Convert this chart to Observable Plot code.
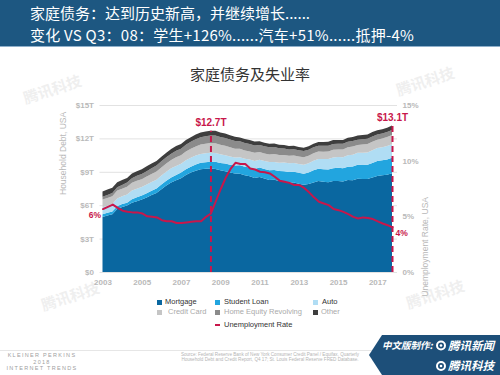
<!DOCTYPE html>
<html><head><meta charset="utf-8">
<script src="https://cdn.jsdelivr.net/npm/d3@7"></script>
<script src="https://cdn.jsdelivr.net/npm/@observablehq/plot@0.6"></script>
<style>
body{margin:0;background:#fff;}
#page{position:relative;width:500px;height:375px;overflow:hidden;font-family:"Liberation Sans",Arial,sans-serif;background:#fff;}
#hdr{position:absolute;left:0;top:0;width:500px;height:46px;background:#1d5781;border-bottom:1px solid #8fb0cb;z-index:3;}
.hl{position:absolute;left:30px;color:#fff;font-family:"Noto Sans CJK SC",sans-serif;font-size:15px;line-height:16px;white-space:nowrap;}
#title{position:absolute;left:0;width:500px;top:65px;text-align:center;font-family:"Noto Sans CJK SC",sans-serif;font-size:15px;line-height:18px;color:#333;z-index:2;}
#chart{position:absolute;left:0;top:0;z-index:1;}
.lg{position:absolute;font-size:7.5px;line-height:10px;white-space:nowrap;z-index:2;}
.sw{position:absolute;width:5px;height:5px;z-index:2;}
.wm{position:absolute;font-family:"Noto Sans CJK SC",sans-serif;font-weight:bold;font-size:15px;color:#efefef;transform:rotate(-18deg);white-space:nowrap;z-index:0;}
.kp{position:absolute;width:84px;left:0;text-align:center;font-size:5.5px;letter-spacing:1.3px;color:#a0a0a0;line-height:7px;}
.src{position:absolute;left:150px;width:240px;text-align:center;font-size:4.6px;line-height:5.5px;color:#b5b5b5;}
</style></head>
<body><div id="page">
<div class="wm" style="left:22px;top:78px;">腾讯科技</div>
<div class="wm" style="left:395px;top:70px;">腾讯科技</div>
<div class="wm" style="left:40px;top:285px;">腾讯科技</div>
<div class="wm" style="left:405px;top:283px;">腾讯科技</div>
<div id="chart"></div>
<div id="hdr">
  <div class="hl" style="top:5px;">家庭债务：达到历史新高，并继续增长......</div>
  <div class="hl" style="top:27px;letter-spacing:0.25px;">变化 VS Q3：08：学生+126%......汽车+51%......抵押-4%</div>
</div>
<div id="title">家庭债务及失业率</div>
<div id="footer"></div>
</div>
<script>
// ---------- data ----------
const years = [2003,2004,2005,2006,2007,2008,2009,2010,2011,2012,2013,2014,2015,2016,2017];
const quarterNames = ["Q1","Q2","Q3","Q4"];
const categories = ["Mortgage","Student Loan","Auto","Credit Card","Home Equity Revolving","Other"];
const colors = ["#0a67a0","#22a5df","#b0ddf4","#c5c5c5","#8b8b8b","#3e3e3e"];
const legendTextColors = ["#333","#333","#333","#aaa","#aaa","#aaa"];

// household debt, $T per quarter 2003Q1..2017Q4
const mortgage = [4.94,5.08,5.18,5.66, 5.84,5.97,6.21,6.36, 6.51,6.70,6.91,7.10, 7.44,7.76,8.04,8.23, 8.42,8.71,8.93,9.10, 9.23,9.27,9.29,9.26, 9.14,9.06,8.94,8.84, 8.83,8.70,8.61,8.45, 8.54,8.40,8.27,8.29, 8.17,8.15,8.03,8.03, 7.93,7.84,7.90,8.05, 8.17,8.10,8.07,8.17, 8.17,8.12,8.26,8.25, 8.37,8.36,8.35,8.48, 8.63,8.69,8.74,8.88];
const studentLoan = [0.24,0.24,0.25,0.25, 0.26,0.26,0.33,0.35, 0.36,0.37,0.38,0.39, 0.43,0.44,0.45,0.48, 0.51,0.52,0.53,0.55, 0.58,0.58,0.61,0.64, 0.66,0.68,0.69,0.72, 0.76,0.76,0.78,0.81, 0.84,0.85,0.87,0.87, 0.90,0.91,0.96,0.97, 0.99,0.99,1.03,1.08, 1.11,1.12,1.13,1.16, 1.19,1.19,1.20,1.23, 1.26,1.26,1.28,1.31, 1.34,1.34,1.36,1.38];
const auto = [0.64,0.64,0.68,0.70, 0.70,0.73,0.77,0.77, 0.76,0.78,0.79,0.80, 0.80,0.81,0.82,0.82, 0.79,0.81,0.81,0.81, 0.80,0.81,0.81,0.79, 0.78,0.75,0.74,0.72, 0.71,0.71,0.71,0.71, 0.71,0.71,0.73,0.73, 0.75,0.77,0.78,0.78, 0.79,0.81,0.84,0.86, 0.88,0.92,0.94,0.96, 0.96,1.00,1.03,1.06, 1.07,1.10,1.11,1.14, 1.16,1.17,1.21,1.22];
const creditCard = [0.69,0.69,0.69,0.70, 0.68,0.70,0.70,0.71, 0.71,0.72,0.73,0.74, 0.72,0.74,0.75,0.77, 0.76,0.79,0.80,0.82, 0.84,0.85,0.87,0.87, 0.84,0.84,0.83,0.80, 0.76,0.74,0.73,0.73, 0.69,0.69,0.69,0.70, 0.68,0.68,0.67,0.68, 0.66,0.67,0.67,0.68, 0.66,0.67,0.68,0.70, 0.69,0.70,0.71,0.73, 0.71,0.73,0.75,0.78, 0.76,0.78,0.81,0.83];
const heRevolving = [0.24,0.26,0.29,0.30, 0.33,0.37,0.42,0.45, 0.47,0.49,0.52,0.53, 0.55,0.56,0.57,0.59, 0.60,0.61,0.62,0.64, 0.66,0.68,0.69,0.71, 0.71,0.71,0.70,0.69, 0.68,0.68,0.67,0.67, 0.63,0.64,0.64,0.63, 0.61,0.59,0.57,0.56, 0.56,0.55,0.54,0.53, 0.53,0.52,0.52,0.51, 0.51,0.50,0.49,0.49, 0.48,0.48,0.47,0.47, 0.46,0.45,0.45,0.44];
const other = [0.48,0.49,0.48,0.45, 0.45,0.42,0.42,0.42, 0.42,0.43,0.42,0.42, 0.42,0.41,0.42,0.42, 0.42,0.42,0.42,0.43, 0.41,0.42,0.41,0.41, 0.40,0.40,0.39,0.38, 0.35,0.35,0.35,0.35, 0.33,0.33,0.33,0.33, 0.31,0.31,0.31,0.32, 0.30,0.31,0.31,0.32, 0.33,0.34,0.35,0.35, 0.34,0.35,0.36,0.37, 0.36,0.37,0.38,0.39, 0.39,0.39,0.39,0.40];
// unemployment rate, % per quarter
const unemployment = [5.7,5.9,6.1,5.8, 5.55,5.45,5.4,5.4, 5.3,5.05,5.0,4.95, 4.7,4.6,4.6,4.45, 4.45,4.5,4.55,4.6, 4.6,5.0,5.3,6.4, 7.5,8.5,9.3,9.85, 9.75,9.75,9.35,9.25, 9.05,9.0,8.9,8.6, 8.25,8.15,8.05,7.85, 7.85,7.6,7.2,6.75, 6.35,6.2,6.05,5.7, 5.6,5.45,5.25,5.0, 4.85,4.95,4.9,4.8, 4.6,4.4,4.25,4.05];

const xTicks = [2003,2005,2007,2009,2011,2013,2015,2017];
const yTicks = [0,3,6,9,12,15];
const yTickLabels = ["$0","$3T","$6T","$9T","$12T","$15T"];
const pctTicks = [0,5,10,15];
const pctTickLabels = ["0%","5%","10%","15%"];
const peakQuarters = ["2008Q3","2017Q4"];
const peakLabels = ["$12.7T","$13.1T"];
const endLabels = ["6%","4%"];
const red = "#c8174b";

// ---------- tables ----------
const quarters = years.flatMap(y => quarterNames.map((q, i) => ({key: y + q, t: y + i / 4})));
const series = [mortgage, studentLoan, auto, creditCard, heRevolving, other];
const debtLong = categories.flatMap((c, ci) => quarters.map((q, i) => ({t: q.t, cat: c, value: series[ci][i]})));
const totals = quarters.map((q, i) => ({t: q.t, key: q.key, total: series.reduce((s, arr) => s + arr[i], 0)}));
const peaks = peakQuarters.map((k, i) => ({...totals.find(d => d.key === k), label: peakLabels[i]}));
const unemp = quarters.map((q, i) => ({t: q.t, u: unemployment[i]}));
const ends = [{...unemp[0], label: endLabels[0]}, {...unemp[unemp.length - 1], label: endLabels[1]}];

const axisStyle = {fontSize: 8, fontWeight: "bold", color: "#b9b9b9"};

const chart = Plot.plot({
  width: 500, height: 300,
  marginLeft: 102.5, marginRight: 108, marginTop: 105, marginBottom: 28,
  x: {domain: [2003, 2017.75]},
  y: {domain: [0, 15]},
  color: {domain: categories, range: colors},
  style: {fontFamily: "Liberation Sans, Arial, sans-serif", background: "transparent", color: "#b9b9b9", overflow: "visible"},
  marks: [
    Plot.gridY(yTicks, {stroke: "#e2e2e2", strokeOpacity: 1, insetLeft: -3, insetRight: -5}),
    Plot.areaY(debtLong, {x: "t", y: "value", fill: "cat", order: categories}),
    Plot.ruleX(peaks, {x: "t", y1: 0, y2: "total", stroke: red, strokeWidth: 2, strokeDasharray: "6,4"}),
    Plot.line(unemp, {x: "t", y: "u", stroke: red, strokeWidth: 2}),
    Plot.text(peaks, {x: "t", y: "total", text: "label", dy: -5, lineAnchor: "bottom", fill: red, fontWeight: "bold", fontSize: 10}),
    Plot.text(ends.slice(0, 1), {x: "t", y: "u", text: "label", textAnchor: "end", dx: -2, dy: 6, fill: red, fontWeight: "bold", fontSize: 8.5}),
    Plot.text(ends.slice(1), {x: "t", y: "u", text: "label", textAnchor: "start", dx: 3, dy: 6, fill: red, fontWeight: "bold", fontSize: 8.5}),
    Plot.axisX({ticks: xTicks, tickSize: 0, tickPadding: 7, tickFormat: d => String(d), label: null, ...axisStyle}),
    Plot.axisY({anchor: "left", ticks: yTicks, tickSize: 0, tickPadding: 9, tickFormat: d => yTickLabels[yTicks.indexOf(d)], label: null, ...axisStyle}),
    Plot.axisY({anchor: "right", ticks: pctTicks, tickSize: 0, tickPadding: 10, tickFormat: d => pctTickLabels[pctTicks.indexOf(d)], label: null, ...axisStyle}),
    Plot.text(["Household Debt, USA"], {frameAnchor: "left", rotate: -90, dx: -39.5, dy: 6, fontSize: 8.5, fill: "#b9b9b9"}),
    Plot.text(["Unemployment Rate, USA"], {frameAnchor: "right", rotate: -90, dx: 33, dy: 8, fontSize: 8.5, fill: "#b9b9b9"})
  ]
});
document.getElementById("chart").appendChild(chart);

// ---------- legend ----------
const page = document.getElementById("page");
const legendPos = [
  {sx: 157, tx: 165, cy: 302}, {sx: 215, tx: 224, cy: 302}, {sx: 313, tx: 322, cy: 302},
  {sx: 157, tx: 168, cy: 312}, {sx: 215, tx: 224, cy: 312}, {sx: 313, tx: 321, cy: 312}
];
categories.forEach((c, i) => {
  const p = legendPos[i];
  const sw = document.createElement("div");
  sw.className = "sw";
  sw.style.left = p.sx + "px"; sw.style.top = (p.cy - 2.5) + "px"; sw.style.background = colors[i];
  page.appendChild(sw);
  const t = document.createElement("div");
  t.className = "lg"; t.textContent = c;
  t.style.left = p.tx + "px"; t.style.top = (p.cy - 5) + "px"; t.style.color = legendTextColors[i];
  page.appendChild(t);
});
{
  const sw = document.createElement("div");
  sw.className = "sw";
  sw.style.left = "215px"; sw.style.top = "323.5px"; sw.style.height = "2px"; sw.style.background = red;
  page.appendChild(sw);
  const t = document.createElement("div");
  t.className = "lg"; t.textContent = "Unemployment Rate";
  t.style.left = "224px"; t.style.top = "319.5px"; t.style.color = "#333";
  page.appendChild(t);
}

// ---------- footer ----------
document.getElementById("footer").innerHTML = `
<div style="position:absolute;left:0;top:350px;width:378px;height:1px;background:#e6e6e6;z-index:2;"></div>
<div class="kp" style="top:352px;">KLEINER PERKINS</div>
<div class="kp" style="top:358.5px;">2018</div>
<div class="kp" style="top:365px;">INTERNET TRENDS</div>
<div class="src" style="top:351.5px;">Source: Federal Reserve Bank of New York Consumer Credit Panel / Equifax, Quarterly<br>Household Debt and Credit Report, Q4 17; St. Louis Federal Reserve FRED Database.</div>
<svg style="position:absolute;left:0;top:0;z-index:3" width="500" height="375">
  <polygon points="382,335 500,335 500,375 382,375 369,355" fill="#1d4f79"/>
  <text x="382" y="349" fill="#fff" font-family="Noto Sans CJK SC" font-size="9.5" font-weight="bold" font-style="italic">中文版制作:</text>
  <circle cx="441" cy="345.5" r="4" fill="none" stroke="#fff" stroke-width="2"/>
  <circle cx="441" cy="345.5" r="1.3" fill="#fff"/>
  <text x="448" y="349.5" fill="#fff" font-family="Noto Sans CJK SC" font-size="11.5" font-weight="bold" font-style="italic">腾讯新闻</text>
  <circle cx="441" cy="366" r="4" fill="none" stroke="#fff" stroke-width="2"/>
  <circle cx="441" cy="366" r="1.3" fill="#fff"/>
  <text x="448" y="370" fill="#fff" font-family="Noto Sans CJK SC" font-size="11.5" font-weight="bold" font-style="italic">腾讯科技</text>
</svg>`;
</script>
</body></html>
